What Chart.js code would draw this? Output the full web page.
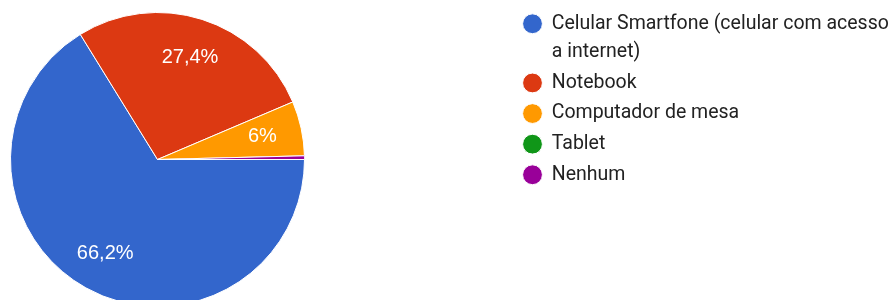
<!DOCTYPE html>
<html>
<head>
<meta charset="utf-8">
<script src="https://cdn.jsdelivr.net/npm/chart.js@4/dist/chart.umd.min.js"></script>
<style>
  html, body { margin: 0; padding: 0; background: #ffffff; overflow: hidden; width: 896px; height: 300px; }
  #wrap { position: absolute; left: -206px; top: 0; width: 1102px; height: 308px; }
</style>
</head>
<body>
<div id="wrap"><canvas id="c" width="1102" height="308"></canvas></div>
<script>
const categories = [
  ["Celular Smartfone (celular com acesso", "a internet)"],
  ["Notebook"],
  ["Computador de mesa"],
  ["Tablet"],
  ["Nenhum"]
];
const values = [66.2, 27.4, 6.0, 0.0, 0.4];
const valueLabels = ["66,2%", "27,4%", "6%", "", ""];
const colors = ["#3366cc", "#dc3912", "#ff9900", "#109618", "#990099"];

const LEGEND_WIDTH = 375;

const legendWidthPlugin = {
  id: 'legendWidth',
  beforeInit(chart) {
    const legend = chart.legend;
    if (!legend) return;
    const origFit = legend.fit;
    legend.fit = function () {
      origFit.call(this);
      this.width = LEGEND_WIDTH;
    };
  }
};

const sliceLabels = {
  id: 'sliceLabels',
  afterDatasetsDraw(chart) {
    const ctx = chart.ctx;
    const meta = chart.getDatasetMeta(0);
    ctx.save();
    ctx.font = '20px "Liberation Sans", Arial, sans-serif';
    ctx.fillStyle = '#ffffff';
    ctx.textAlign = 'center';
    ctx.textBaseline = 'middle';
    meta.data.forEach((arc, i) => {
      if (!valueLabels[i]) return;
      const p = arc.getProps(['x', 'y', 'startAngle', 'endAngle', 'outerRadius'], true);
      const mid = (p.startAngle + p.endAngle) / 2;
      const r = p.outerRadius * 0.73;
      ctx.fillText(valueLabels[i], p.x + Math.cos(mid) * r, p.y + Math.sin(mid) * r);
    });
    ctx.restore();
  }
};

new Chart(document.getElementById('c'), {
  type: 'pie',
  data: {
    labels: categories,
    datasets: [{
      data: values,
      backgroundColor: colors,
      borderColor: '#ffffff',
      borderWidth: 1,
      hoverOffset: 0
    }]
  },
  options: {
    responsive: false,
    animation: false,
    devicePixelRatio: 1,
    rotation: 90,
    layout: { padding: { top: 12, bottom: 1, left: 0, right: 0 } },
    plugins: {
      tooltip: { enabled: false },
      legend: {
        position: 'right',
        align: 'start',
        labels: {
          usePointStyle: true,
          pointStyle: 'circle',
          boxWidth: 19,
          boxHeight: 14,
          padding: 2,
          color: '#222222',
          font: { family: 'Roboto, Arial, sans-serif', size: 19.5, lineHeight: 28.6 / 19.5 }
        }
      }
    }
  },
  plugins: [legendWidthPlugin, sliceLabels]
});
</script>
</body>
</html>
